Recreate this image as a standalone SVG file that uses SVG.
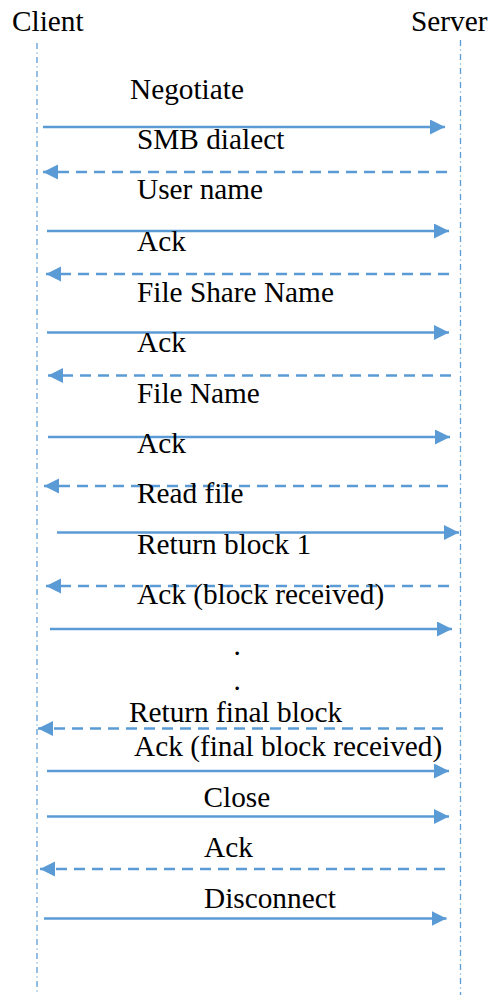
<svg xmlns="http://www.w3.org/2000/svg" width="496" height="995" viewBox="0 0 496 995">
  <style>
    text { font-family: "Times New Roman", "Liberation Serif", Tinos, "Noto Serif", "DejaVu Serif", serif; font-size: 29.3px; fill: #000; }
    .life { stroke: #5B9BD5; stroke-width: 1.3; stroke-dasharray: 6 3.5 1 3.5; fill: none; }
    .req { stroke: #5B9BD5; stroke-width: 2.4; fill: none; marker-end: url(#head); }
    .resp { stroke: #5B9BD5; stroke-width: 2.6; fill: none; stroke-dasharray: 11 7; marker-end: url(#head); }
  </style>
  <defs>
    <marker id="head" markerUnits="userSpaceOnUse" markerWidth="16" markerHeight="16" refX="15" refY="7.5" orient="auto">
      <path d="M0,0 L15,7.5 L0,15 Z" fill="#5B9BD5"/>
    </marker>
  </defs>
  <rect width="496" height="995" fill="#fff"/>

  <g id="client">
    <text x="12" y="31">Client</text>
    <line class="life" x1="37" y1="43" x2="37" y2="995"/>
  </g>
  <g id="server">
    <text x="411" y="31">Server</text>
    <line class="life" x1="460.5" y1="40" x2="460.5" y2="995"/>
  </g>

  <!-- messages: solid = request, dashed = response -->
  <g id="connectors">
    <line class="req" x1="43" y1="127" x2="445" y2="127"/>
    <line class="resp" x1="447" y1="172" x2="43" y2="172"/>
    <line class="req" x1="47" y1="231" x2="449" y2="231"/>
    <line class="resp" x1="449" y1="274" x2="46" y2="274"/>
    <line class="req" x1="47" y1="332.5" x2="449" y2="332.5"/>
    <line class="resp" x1="451" y1="375.5" x2="48" y2="375.5"/>
    <line class="req" x1="48" y1="437" x2="450" y2="437"/>
    <line class="resp" x1="448" y1="486" x2="44" y2="486"/>
    <line class="req" x1="57" y1="532.5" x2="459" y2="532.5"/>
    <line class="resp" x1="449" y1="586" x2="46" y2="586"/>
    <line class="req" x1="50" y1="629" x2="452" y2="629"/>
    <line class="resp" x1="443" y1="728.5" x2="38" y2="728.5"/>
    <line class="req" x1="47" y1="771" x2="449" y2="771"/>
    <line class="req" x1="47" y1="816.5" x2="449" y2="816.5"/>
    <line class="resp" x1="445" y1="869" x2="40" y2="869"/>
    <line class="req" x1="44" y1="918.5" x2="446.5" y2="918.5"/>
  </g>

  <g id="labels">
    <text x="130" y="99">Negotiate</text>
    <text x="137" y="149">SMB dialect</text>
    <text x="137" y="199">User name</text>
    <text x="137" y="250.5">Ack</text>
    <text x="137" y="301.5">File Share Name</text>
    <text x="137" y="351.5">Ack</text>
    <text x="137" y="402.5">File Name</text>
    <text x="137" y="453">Ack</text>
    <text x="137" y="503">Read file</text>
    <text x="137" y="554">Return block 1</text>
    <text x="137" y="604">Ack (block received)</text>
    <text x="233.5" y="655">.</text>
    <text x="233.5" y="690">.</text>
    <text x="129" y="721.5">Return final block</text>
    <text x="134" y="756">Ack (final block received)</text>
    <text x="203.5" y="807">Close</text>
    <text x="204" y="857">Ack</text>
    <text x="204" y="908">Disconnect</text>
  </g>
</svg>
